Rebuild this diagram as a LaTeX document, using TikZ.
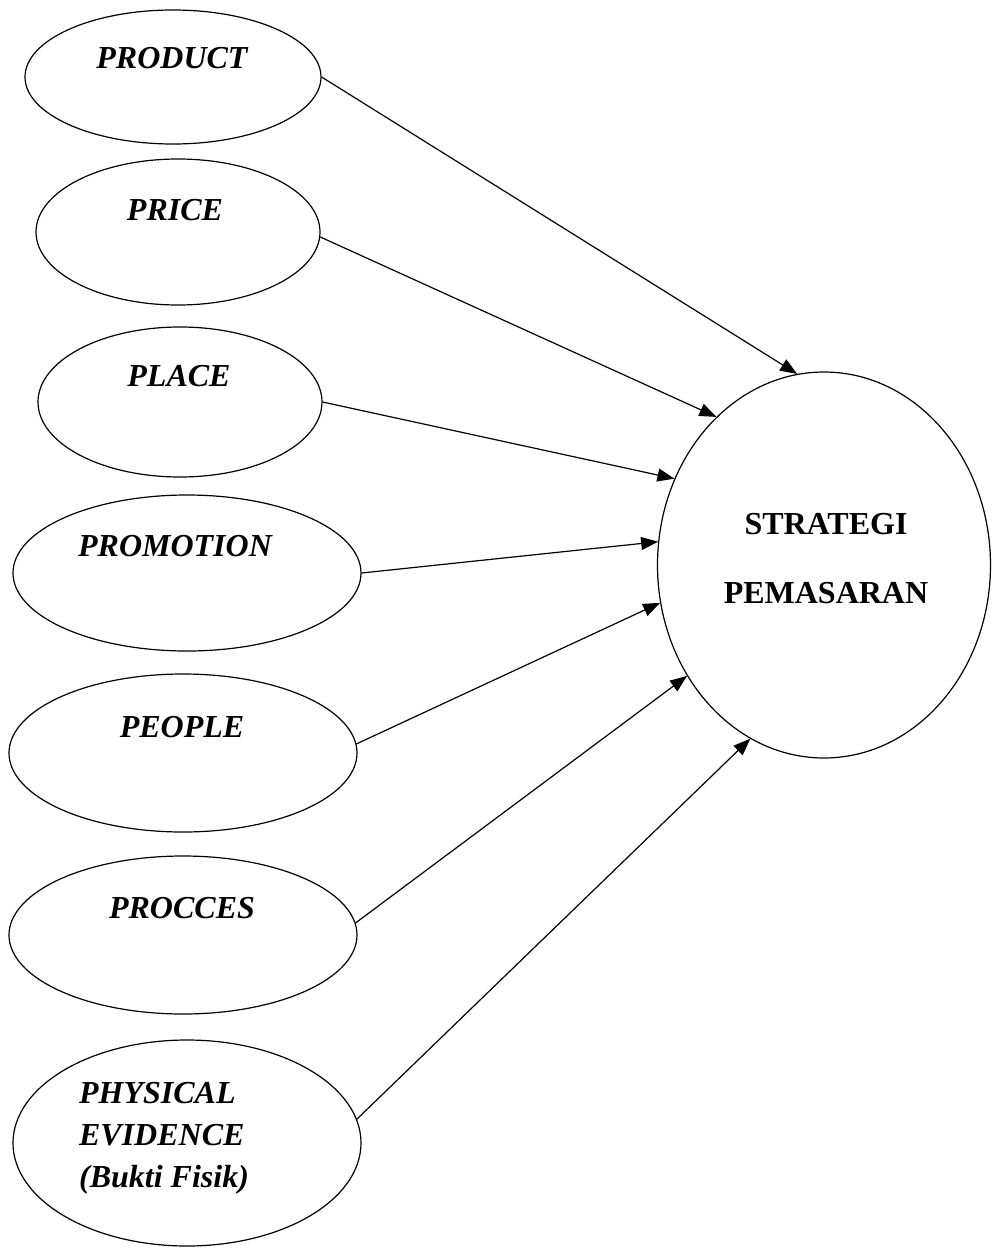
\documentclass[tikz,border=0pt]{standalone}
\usepackage{fontspec}
\setmainfont{Liberation Serif}
\usetikzlibrary{shapes.geometric,arrows.meta}

\begin{document}
\begin{tikzpicture}[x=1pt, y=-1pt, line width=1.2pt,
  factor/.style={ellipse, draw, inner sep=0pt},
  lbl/.style={font=\fontsize{32}{42}\selectfont\bfseries\itshape, inner sep=0pt},
  strlbl/.style={font=\fontsize{32}{69}\selectfont\bfseries, inner sep=0pt, align=center},
  >={Triangle[length=17pt, width=13pt]}]
\useasboundingbox (0,0) rectangle (991,1248);

\node[factor, minimum width=296pt, minimum height=134pt, label={[lbl, xshift=-1pt, yshift=19pt]center:PRODUCT}] (product) at (173,77) {};
\node[factor, minimum width=284pt, minimum height=146pt, label={[lbl, xshift=-3pt, yshift=22pt]center:PRICE}] (price) at (178,232) {};
\node[factor, minimum width=284pt, minimum height=150pt, label={[lbl, xshift=-1pt, yshift=26pt]center:PLACE}] (place) at (180,402) {};
\node[factor, minimum width=348pt, minimum height=156pt, label={[lbl, xshift=-12pt, yshift=27pt]center:PROMOTION}] (promotion) at (187,573) {};
\node[factor, minimum width=348pt, minimum height=158pt, label={[lbl, xshift=-1pt, yshift=26pt]center:PEOPLE}] (people) at (183,753) {};
\node[factor, minimum width=348pt, minimum height=158pt, label={[lbl, xshift=-1pt, yshift=27pt]center:PROCCES}] (procces) at (183,935) {};
\node[factor, minimum width=348pt, minimum height=206pt, label={[lbl, align=left, xshift=-23pt, yshift=5pt]center:{PHYSICAL\\EVIDENCE\\(Bukti Fisik)}}] (physical) at (187,1143) {};

\node[factor, minimum width=333pt, minimum height=386pt, label={[strlbl, xshift=2pt, yshift=6pt]center:{STRATEGI\\PEMASARAN}}] (strategi) at (824,565) {};

\draw[->] (product.east) -- (strategi.98);
\draw[->] (price.-2) -- (strategi.126);
\draw[->] (place.east) -- (strategi.150);
\draw[->] (promotion.east) -- (strategi.172);
\draw[->] (people.3) -- (strategi.193);
\draw[->] (procces.4) -- (strategi.219);
\draw[->] (physical.8) -- (strategi.247);
\end{tikzpicture}
\end{document}
